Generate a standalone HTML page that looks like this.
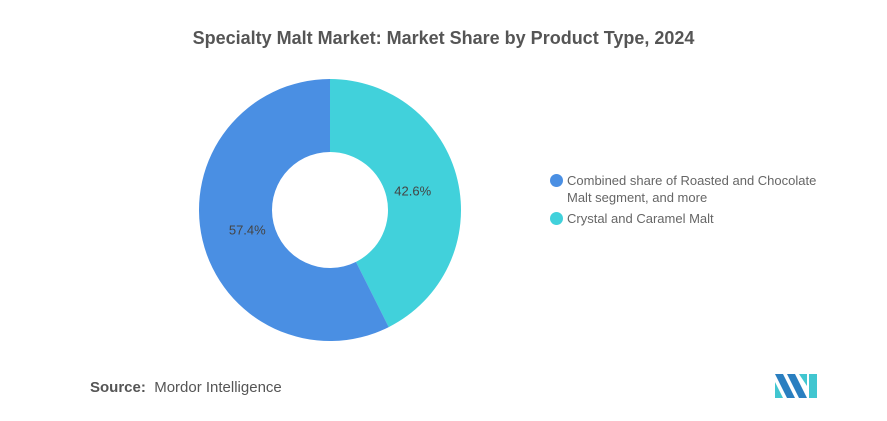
<!DOCTYPE html>
<html><head><meta charset="utf-8"><style>
body{margin:0;width:887px;height:421px;background:#fff;font-family:"Liberation Sans",sans-serif;overflow:hidden;position:relative}
.t{position:absolute;left:0;width:887px;top:28px;text-align:center;font-size:18px;font-weight:bold;color:#555}
.lg{position:absolute;left:551px;font-size:13px;color:#666;line-height:17px}
.dot{position:absolute;left:-1px;width:13px;height:13px;border-radius:50%}
.src{position:absolute;left:90px;top:379px;font-size:15px;color:#555}
</style></head><body>
<div class="t">Specialty Malt Market: Market Share by Product Type, 2024</div>
<svg id="c" width="887" height="421" style="position:absolute;left:0;top:0"></svg>
<div class="lg" style="top:172px"><span class="dot" style="background:#4a8fe3;top:2px"></span><div style="padding-left:16px">Combined share of Roasted and Chocolate<br>Malt segment, and more</div></div>
<div class="lg" style="top:210px"><span class="dot" style="background:#41d1db;top:2px"></span><div style="padding-left:16px">Crystal and Caramel Malt</div></div>
<div class="src"><b>Source:</b>&nbsp; Mordor Intelligence</div>
<svg width="44" height="24" style="position:absolute;left:775px;top:374px">
<polygon points="0,0 8,0 20,24 12,24" fill="#2a7fc0"/><polygon points="0,8 8,24 0,24" fill="#41c6d0"/>
<polygon points="12,0 20,0 32,24 24,24" fill="#2a7fc0"/><polygon points="24,0 32,0 32,12" fill="#41c6d0"/>
<polygon points="34,0 42,0 42,24 34,24" fill="#41c6d0"/></svg>
<script>
const categories=["Crystal and Caramel Malt","Combined share of Roasted and Chocolate Malt segment, and more"];
const values=[42.6,57.4];
const labels=["42.6%","57.4%"];
const colors=["#41d1db","#4a8fe3"];
const svg=document.getElementById('c');const NS="http://www.w3.org/2000/svg";
const cx=330,cy=210,R=131,r=58;
const tot=values.reduce((a,b)=>a+b,0);let a0=0;
function pt(a,rad){return [cx+rad*Math.sin(a),cy-rad*Math.cos(a)];}
values.forEach((v,i)=>{
const a1=a0+v/tot*2*Math.PI;const lg=(a1-a0)>Math.PI?1:0;
const p1=pt(a0,R),p2=pt(a1,R),p3=pt(a1,r),p4=pt(a0,r);
const p=document.createElementNS(NS,'path');
p.setAttribute('d',`M${p1}A${R},${R} 0 ${lg} 1 ${p2}L${p3}A${r},${r} 0 ${lg} 0 ${p4}Z`);
p.setAttribute('fill',colors[i]);


svg.appendChild(p);
const m=(a0+a1)/2;const lp=pt(m,85);
const t=document.createElementNS(NS,'text');
t.setAttribute('x',lp[0]);t.setAttribute('y',lp[1]+5);t.setAttribute('text-anchor','middle');
t.setAttribute('font-size','13');t.setAttribute('fill','#444');t.setAttribute('font-family','Liberation Sans');
t.textContent=labels[i];


svg.appendChild(t);
a0=a1;});
</script>
</body></html>
